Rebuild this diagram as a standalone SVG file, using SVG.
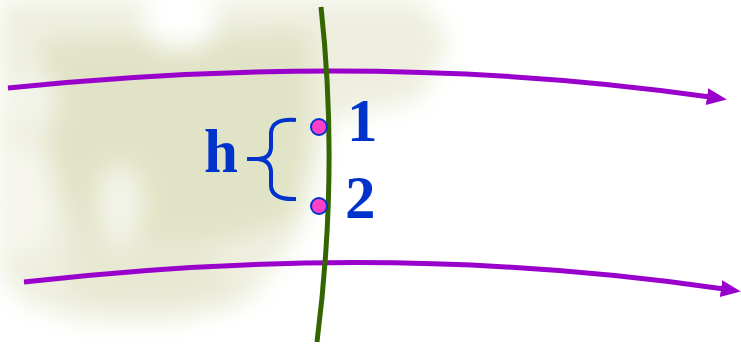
<svg xmlns="http://www.w3.org/2000/svg" width="741" height="344" viewBox="0 0 741 344">
  <defs>
    <filter id="blur" x="-20%" y="-20%" width="140%" height="140%">
      <feGaussianBlur stdDeviation="12"/>
    </filter>
    <marker id="arrow" markerUnits="userSpaceOnUse" markerWidth="24" markerHeight="20" refX="3" refY="8.5" orient="auto">
      <path d="M0,0 L20,8.5 L0,17 z" fill="#9900cc"/>
    </marker>
  </defs>
  <style>
    .flow { fill: none; stroke: #9900cc; stroke-width: 5; }
    .wall { fill: none; stroke: #336600; stroke-width: 5; }
    .dot { fill: #ff3fc8; stroke: #0033cc; stroke-width: 2; }
    .lbl { font-family: "Liberation Serif", "Times New Roman", serif; font-weight: bold; font-size: 61px; fill: #0033cc; }
    .brace { fill: none; stroke: #0033cc; stroke-width: 4; stroke-linecap: butt; }
  </style>
  <rect width="741" height="344" fill="#ffffff"/>
  <g id="background" filter="url(#blur)">
    <path d="M0,0 L420,0 L450,40 L420,100 L330,120 L300,230 L250,300 L180,320 L80,320 L20,300 L0,270 z" fill="#eeefdf"/>
    <path d="M40,40 L310,30 L310,140 L295,220 L230,240 L160,250 L80,240 L50,170 z" fill="#e1e3c6"/>
    <path d="M60,240 L200,240 L240,300 L140,310 L70,300 z" fill="#e8e9d3"/>
    <ellipse cx="180" cy="22" rx="38" ry="26" fill="#ffffff"/>
    <ellipse cx="30" cy="100" rx="28" ry="30" fill="#f3f4e8"/>
    <ellipse cx="25" cy="200" rx="30" ry="55" fill="#f6f6ee"/>
    <ellipse cx="120" cy="205" rx="22" ry="40" fill="#f4f5ea"/>
  </g>
  <g id="connectors">
    <path id="flow-top" class="flow" d="M8,88 Q380,50 710,97" marker-end="url(#arrow)"/>
    <path id="flow-bottom" class="flow" d="M24,282 Q390,240 724,289" marker-end="url(#arrow)"/>
  </g>
  <g id="wall">
    <path class="wall" d="M321,7 Q339,170 317,342"/>
  </g>
  <g id="point1">
    <circle class="dot" cx="319" cy="127" r="8"/>
    <text class="lbl" x="347" y="141">1</text>
  </g>
  <g id="point2">
    <circle class="dot" cx="319" cy="206" r="8"/>
    <text class="lbl" x="345" y="218">2</text>
  </g>
  <g id="height">
    <path class="brace" d="M296,120 Q272,118 271,133 L271,148 Q270,159 258,159 L247,159 M258,159 Q270,160 271,171 L271,186 Q272,200 296,199"/>
    <text class="lbl" x="204" y="172">h</text>
  </g>
</svg>
